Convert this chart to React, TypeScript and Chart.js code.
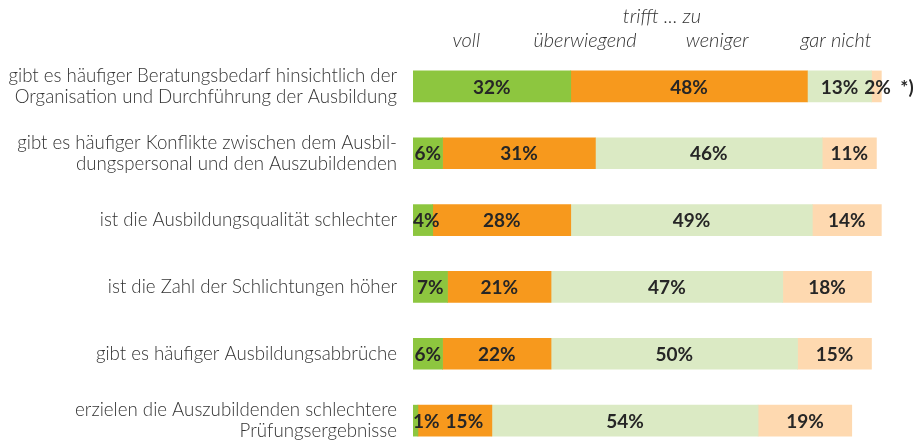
import React, { useEffect, useRef } from "react";
import { Chart, registerables } from "chart.js";

Chart.register(...registerables);

const categories: (string | string[])[] = [
  ["gibt es häufiger Beratungsbedarf hinsichtlich der", "Organisation und Durchführung der Ausbildung"],
  ["gibt es häufiger Konflikte zwischen dem Ausbil-", "dungspersonal und den Auszubildenden"],
  "ist die Ausbildungsqualität schlechter",
  "ist die Zahl der Schlichtungen höher",
  "gibt es häufiger Ausbildungsabbrüche",
  ["erzielen die Auszubildenden schlechtere", "Prüfungsergebnisse"],
];

const seriesNames = ["voll", "überwiegend", "weniger", "gar nicht"];
const headerTitle = "trifft ... zu";
const footnoteMark = "*)";

const voll = [32, 6, 4, 7, 6, 1];
const ueberwiegend = [48, 31, 28, 21, 22, 15];
const weniger = [13, 46, 49, 47, 50, 54];
const garNicht = [2, 11, 14, 18, 15, 19];

const colors = ["#8dc63f", "#f7991d", "#dbeac4", "#fed9b0"];

const TEXT = "#333333";
const LABEL_FONT = "Lato";

const labelPlugin = {
  id: "segLabels",
  afterDatasetsDraw(chart: any) {
    const ctx = chart.ctx;
    const area = chart.chartArea;
    ctx.save();
    ctx.font = `bold 19px ${LABEL_FONT}`;
    ctx.fillStyle = "#262626";
    ctx.textBaseline = "middle";
    ctx.textAlign = "left";
    const n = chart.data.labels.length;
    for (let i = 0; i < n; i++) {
      let prevRight = -Infinity;
      chart.data.datasets.forEach((ds: any, di: number) => {
        const el = chart.getDatasetMeta(di).data[i];
        if (!el) return;
        const txt = `${ds.data[i]}%`;
        const w = ctx.measureText(txt).width;
        const cx = (el.x + el.base) / 2;
        let x = cx - w / 2;
        if (x < area.left) x = area.left;
        if (x < prevRight + 6) x = prevRight + 6;
        ctx.fillText(txt, x, el.y + 1);
        prevRight = x + w;
      });
    }
    // footnote mark after first bar
    const lastMeta = chart.getDatasetMeta(chart.data.datasets.length - 1);
    const el0 = lastMeta.data[0];
    if (el0) {
      ctx.fillText(footnoteMark, el0.x + 19, el0.y + 1);
    }
    // header
    const xs = chart.scales.x;
    ctx.font = `italic 300 20px ${LABEL_FONT}`;
    ctx.fillStyle = TEXT;
    ctx.textAlign = "center";
    ctx.fillText(headerTitle, xs.getPixelForValue(50.5), 17);
    const headerPos = [10.8, 34.9, 61.7, 85.8];
    seriesNames.forEach((name, i) => {
      ctx.fillText(name, xs.getPixelForValue(headerPos[i]), 41);
    });
    ctx.restore();
  },
};

export default function App() {
  const ref = useRef<HTMLCanvasElement | null>(null);
  useEffect(() => {
    if (!ref.current) return;
    const data = [voll, ueberwiegend, weniger, garNicht];
    const chart = new Chart(ref.current, {
      type: "bar",
      data: {
        labels: categories,
        datasets: seriesNames.map((name, i) => ({
          label: name,
          data: data[i],
          backgroundColor: colors[i],
          borderWidth: 0,
          barThickness: 31,
        })),
      },
      options: {
        indexAxis: "y",
        animation: false,
        responsive: false,
        layout: { padding: { top: 53, bottom: 6, left: 0, right: 10 } },
        plugins: {
          legend: { display: false },
          tooltip: { enabled: false },
        },
        scales: {
          x: {
            stacked: true,
            min: 0,
            max: 100,
            display: false,
          },
          y: {
            stacked: true,
            grid: { display: false, drawTicks: false },
            border: { display: false },
            afterFit: (scale: any) => {
              scale.width = 413;
            },
            ticks: {
              padding: 16,
              color: TEXT,
              font: { family: LABEL_FONT, size: 18.7, weight: "300", lineHeight: 1.12 },
            },
          },
        },
      },
      plugins: [labelPlugin],
    });
    return () => chart.destroy();
  }, []);
  return (
    <div
      style={{
        position: "fixed",
        left: 0,
        top: 0,
        width: 916,
        height: 444,
        overflow: "hidden",
        background: "#fff",
      }}
    >
      <canvas ref={ref} width={916} height={491} style={{ display: "block" }} />
    </div>
  );
}
